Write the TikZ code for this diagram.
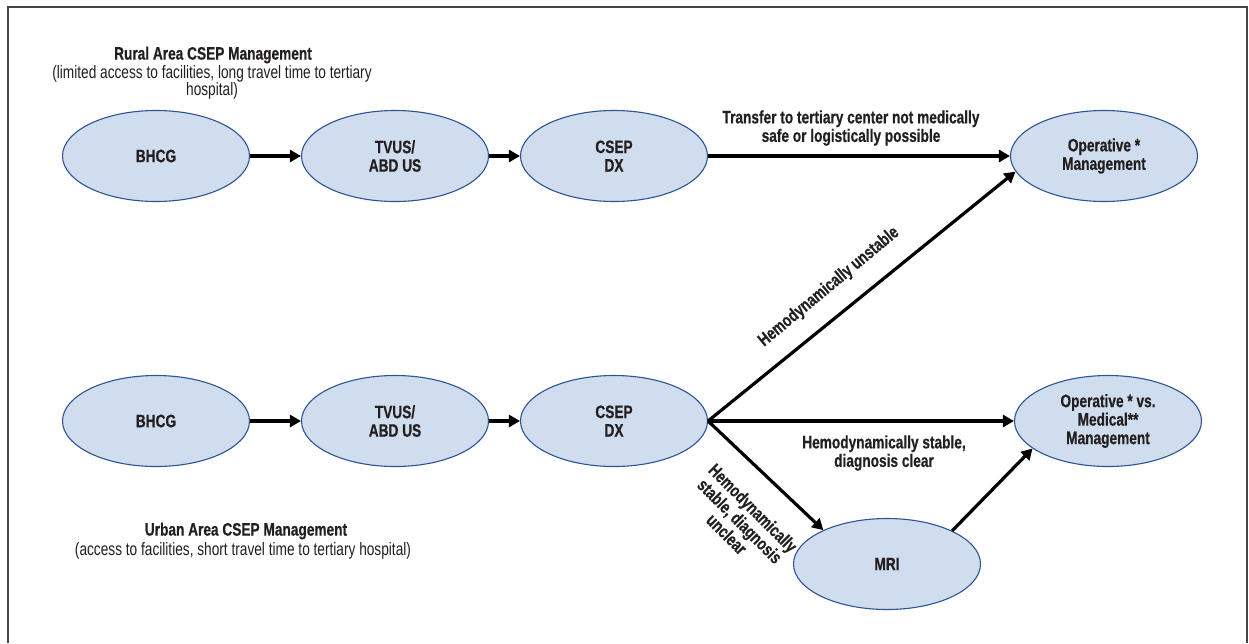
\documentclass[tikz,border=0pt]{standalone}
\usepackage{fontspec}
\setmainfont[FakeStretch=0.76, BoldFeatures={FakeBold=0.5}]{Liberation Sans}
\usetikzlibrary{arrows.meta,shapes.geometric}
\definecolor{ellfill}{RGB}{208,221,238}
\definecolor{elldraw}{RGB}{46,84,150}
\definecolor{txt}{RGB}{35,31,32}
\definecolor{framecol}{RGB}{70,70,70}
\begin{document}
\begin{tikzpicture}[x=1pt,y=-1pt,
  ell/.style={ellipse, draw=elldraw, line width=1.1pt, fill=ellfill, minimum width=187pt, minimum height=91pt, inner sep=0pt, align=center, text=txt, font=\bfseries\fontsize{18}{18.5}\selectfont},
  conn/.style={line width=3.2pt, -{Triangle[length=11pt,width=12pt]}},
  lbl/.style={align=center, text=txt, inner sep=1pt, font=\bfseries\fontsize{18}{18.5}\selectfont},
  sub/.style={align=center, text=txt, inner sep=1pt, font=\fontsize{18}{17}\selectfont}]
\fill[white] (0,0) rectangle (1249,643);
\useasboundingbox (0,0) rectangle (1249,643);
\draw[framecol, line width=1.3pt] (8,643) -- (8,7) -- (1247,7) -- (1247,643);

% titles
\node[lbl] (rt) at (213,55) {Rural Area CSEP Management};
\node[sub] (rs) at (212,82) {(limited access to facilities, long travel time to tertiary\\hospital)};
\node[lbl] (ut) at (246,531) {Urban Area CSEP Management};
\node[sub] (us) at (243,551) {(access to facilities, short travel time to tertiary hospital)};

% row 1
\node[ell] (b1) at (156,156) {BHCG};
\node[ell] (t1) at (395,156) {TVUS/\\ABD US};
\node[ell] (c1) at (614,156) {CSEP\\DX};
\node[ell] (o1) at (1104,156) {Operative *\\Management};

% row 2
\node[ell] (b2) at (156,421) {BHCG};
\node[ell] (t2) at (395,421) {TVUS/\\ABD US};
\node[ell] (c2) at (614,421) {CSEP\\DX};
\node[ell] (om) at (1108,421) {Operative * vs.\\Medical**\\Management};
\node[ell] (mri) at (887,564) {MRI};

% connectors
\draw[conn] (b1) -- (t1);
\draw[conn] (t1) -- (c1);
\draw[conn] (c1) -- (o1);
\draw[conn] (b2) -- (t2);
\draw[conn] (t2) -- (c2);
\draw[conn] (c2.east) -- (o1.190);
\draw[conn] (c2.east) -- (om.west);
\draw[conn] (c2.east) -- (mri.152);
\draw[conn] (mri.27) -- (om.200);

% edge labels
\node[lbl] (l1) at (851,128) {Transfer to tertiary center not medically\\safe or logistically possible};
\node[lbl, rotate=39.7] (l2) at (829,287) {Hemodynamically unstable};
\node[lbl] (l3) at (884,453) {Hemodynamically stable,\\diagnosis clear};
\node[lbl, rotate=-45] (l4) at (740,521) {Hemodynamically\\stable, diagnosis\\unclear};
\end{tikzpicture}
\end{document}
